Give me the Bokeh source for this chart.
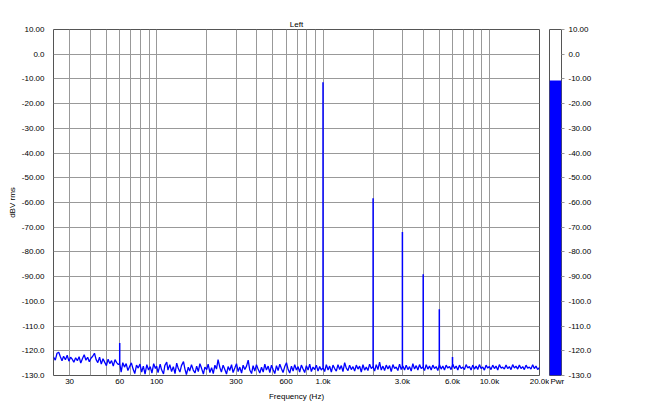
from bokeh.plotting import figure
from bokeh.layouts import row
from bokeh.models import FixedTicker, Title
from bokeh.embed import file_html
from bokeh.resources import INLINE

# ---------------- data ----------------
noise_freq = [
    24, 24.6, 25.2, 25.8, 26.4, 27, 27.6, 28.3, 29, 29.7,
    30.4, 31.1, 31.8, 32.6, 33.4, 34.2, 35, 35.8, 36.7, 37.6, 38.5, 39.4,
    40.3, 41.3, 42.3, 43.3, 44.3, 45.4, 46.5, 47.6, 48.7, 49.9, 51.1, 52.3, 53.6, 54.9, 56.2, 57.5, 58.9,
    60, 61.2, 62.6, 64.1, 65.6, 67.2, 68.8, 70.5, 72.2, 73.9, 75.7, 77.5, 79.4, 81.3, 83.2, 85.2, 87.3, 89.4, 91.5, 93.7, 96, 98.3,
    100, 102, 105, 107, 110, 112, 115, 117, 120, 123,
    126, 129, 132, 135, 138, 141, 145, 148, 151, 155,
    158, 162, 166, 170, 174, 178, 182, 186, 191, 195,
    200, 204, 209, 214, 219, 224, 229, 234, 240, 245,
    251, 257, 263, 269, 275, 282, 288, 295, 302, 309,
    316, 324, 331, 339, 347, 355, 363, 372, 380, 389,
    398, 407, 417, 427, 437, 447, 457, 468, 479, 490,
    501, 513, 525, 537, 550, 562, 575, 589, 603, 617,
    631, 646, 661, 676, 692, 708, 724, 741, 759, 776,
    794, 813, 832, 851, 871, 891, 912, 933, 955, 977,
    1000, 1023, 1047, 1072, 1096, 1122, 1148, 1175, 1202, 1230,
    1259, 1288, 1318, 1349, 1380, 1413, 1445, 1479, 1514, 1549,
    1585, 1622, 1660, 1698, 1738, 1778, 1820, 1862, 1905, 1950,
    1995, 2042, 2089, 2138, 2188, 2239, 2291, 2344, 2399, 2455,
    2512, 2570, 2630, 2692, 2754, 2818, 2884, 2951, 3020, 3090,
    3162, 3236, 3311, 3388, 3467, 3548, 3631, 3715, 3802, 3890,
    3981, 4074, 4169, 4266, 4365, 4467, 4571, 4677, 4786, 4898,
    5012, 5129, 5248, 5370, 5495, 5623, 5754, 5888, 6026, 6166,
    6310, 6457, 6607, 6761, 6918, 7079, 7244, 7413, 7586, 7762,
    7943, 8128, 8318, 8511, 8710, 8913, 9120, 9333, 9550, 9772,
    10000, 10230, 10470, 10720, 10960, 11220, 11480, 11750, 12020, 12300,
    12590, 12880, 13180, 13490, 13800, 14130, 14450, 14790, 15140, 15490,
    15850, 16220, 16600, 16980, 17380, 17780, 18200, 18620, 19050, 19500,
    19950, 20000]

noise_db = [
    -122.5, -123.8, -121.0, -120.6, -122.4, -124.0, -122.2, -123.6, -121.8, -124.2,
    -122.6, -123.4, -124.6, -122.8, -124.0, -122.4, -125.0, -123.2, -121.6, -123.8, -122.6, -124.4,
    -123.0, -122.2, -121.0, -123.6, -124.8, -122.6, -125.4, -123.2, -124.6, -126.0, -123.4, -125.2, -124.0, -126.2, -123.6, -124.8, -125.6,
    -125.0, -128.6, -124.8, -126.6, -125.2, -128.0, -126.4, -124.9, -127.4, -129.2, -125.8, -127.0, -125.4, -128.6, -126.2, -129.4, -125.6, -127.8, -126.4, -129.0, -125.2, -127.2,
    -126.2, -128.8, -125.4, -127.6, -129.4, -126.0, -124.6, -127.8, -125.6, -128.4,
    -126.4, -129.2, -125.0, -127.2, -128.6, -126.0, -124.4, -127.4, -129.6, -126.6,
    -128.2, -125.6, -127.8, -129.0, -126.2, -128.4, -125.2, -127.0, -129.4, -126.6,
    -127.6, -125.4, -128.8, -126.8, -129.2, -125.8, -127.4, -123.6, -126.8, -128.6,
    -125.8, -127.6, -129.4, -126.4, -128.0, -125.6, -128.8, -127.0, -125.2, -128.4,
    -126.6, -129.0, -125.8, -127.6, -126.2, -123.8, -127.8, -129.2, -126.0, -128.2,
    -125.6, -127.4, -129.0, -126.6, -128.6, -125.4, -127.8, -126.2, -128.8, -125.8,
    -127.6, -129.2, -126.0, -128.0, -125.4, -127.2, -128.8, -126.4, -124.8, -127.6,
    -129.0, -126.2, -128.2, -125.6, -127.8, -126.4, -128.6, -125.8, -127.4, -128.8,
    -126.0, -127.8, -125.4, -128.4, -126.6, -127.6, -125.8, -128.2, -126.4, -127.8,
    -126.8, -128.4, -125.6, -127.8, -126.2, -128.6, -125.8, -127.2, -128.2, -125.6,
    -127.6, -126.0, -128.4, -124.8, -127.0, -128.0, -125.8, -127.6, -126.4, -128.2,
    -125.8, -127.4, -126.2, -128.6, -125.6, -127.8, -126.6, -128.0, -125.4, -127.2,
    -126.4, -128.2, -125.6, -127.6, -124.6, -127.8, -126.2, -128.0, -125.8, -127.4,
    -126.0, -128.4, -125.6, -127.2, -126.6, -128.0, -125.4, -127.6, -126.2, -127.8,
    -125.8, -127.6, -126.4, -128.2, -125.2, -127.4, -126.0, -127.8, -125.6, -127.2,
    -126.6, -128.0, -125.6, -127.4, -126.2, -127.8, -125.8, -127.2, -126.4, -128.0,
    -125.6, -127.4, -126.2, -127.8, -125.8, -127.0, -126.4, -127.6, -125.4, -127.2,
    -126.2, -127.8, -125.8, -127.2, -126.6, -127.6, -125.6, -127.0, -126.4, -127.8,
    -125.8, -127.4, -126.2, -127.6, -125.6, -127.2, -126.6, -127.8, -125.8, -127.0,
    -126.4, -127.6, -125.8, -127.2, -126.2, -127.8, -125.6, -127.0, -126.6, -127.4,
    -125.8, -127.2, -126.4, -127.6, -125.6, -127.0, -126.2, -127.4, -125.8, -127.2,
    -126.4, -127.6, -125.8, -127.0, -126.6, -127.4, -125.6, -127.2, -126.2, -127.6,
    -126.8, -127.0]

peak_freq = [60, 1000, 2000, 3000, 4000, 5000, 6000]
peak_base = [-125.0, -126.8, -127.0, -127.0, -126.8, -126.8, -126.6]
peak_db = [-116.8, -11.3, -58.3, -71.9, -89.0, -103.2, -122.5]

meter_level = -10.6

x_tick_values = [30, 60, 100, 300, 600, 1000, 3000, 6000, 10000, 20000]
x_tick_labels = ["30", "60", "100", "300", "600", "1.0k", "3.0k", "6.0k", "10.0k", "20.0k"]
x_grid_values = [30, 40, 50, 60, 70, 80, 90, 100, 200, 300, 400, 500, 600, 700, 800, 900,
                 1000, 2000, 3000, 4000, 5000, 6000, 7000, 8000, 9000, 10000, 20000]
y_tick_values = [10, 0, -10, -20, -30, -40, -50, -60, -70, -80, -90, -100, -110, -120, -130]
y_tick_labels = ["10.00", "0.0", "-10.00", "-20.00", "-30.00", "-40.00", "-50.00", "-60.00",
                 "-70.00", "-80.00", "-90.00", "-100.0", "-110.0", "-120.0", "-130.0"]

FONT = "Liberation Sans"
FS = "8px"
BLUE = "#0000ff"
GRID = "#999999"
FRAME = "#555555"

TOP = 29
FRAME_H = 346
BOTTOM = 30

# ---------------- main spectrum plot ----------------
p = figure(width=53 + 486 + 10, height=TOP + FRAME_H + BOTTOM, x_axis_type="log",
           x_range=(24, 20000), y_range=(-130, 10),
           output_backend="svg", toolbar_location=None,
           min_border_left=53, min_border_right=10, min_border_top=TOP, min_border_bottom=BOTTOM)
p.title = Title(text="Left", align="center", text_font=FONT, text_font_size=FS,
                text_font_style="normal", text_color="#000000", offset=0, standoff=1)
p.outline_line_color = FRAME
p.outline_line_width = 1
p.background_fill_color = "white"
p.border_fill_color = "white"

p.line(noise_freq, noise_db, line_color=BLUE, line_width=1.3)
p.segment(x0=peak_freq, y0=peak_base, x1=peak_freq, y1=peak_db, line_color=BLUE, line_width=1.5)

p.xaxis.ticker = FixedTicker(ticks=x_tick_values)
p.xaxis.major_label_overrides = {v: l for v, l in zip(x_tick_values, x_tick_labels)}
p.xgrid.ticker = FixedTicker(ticks=x_grid_values)
p.yaxis.ticker = FixedTicker(ticks=y_tick_values)
p.yaxis.major_label_overrides = {v: l for v, l in zip(y_tick_values, y_tick_labels)}
p.ygrid.ticker = FixedTicker(ticks=y_tick_values)

for g in (p.xgrid, p.ygrid):
    g.grid_line_color = GRID
    g.grid_line_width = 1

p.xaxis.axis_label = "Frequency (Hz)"
p.yaxis.axis_label = "dBV rms"
for ax in (p.xaxis, p.yaxis):
    ax.axis_line_color = None
    ax.major_tick_line_color = None
    ax.minor_tick_line_color = None
    ax.major_tick_out = 0
    ax.major_tick_in = 0
    ax.minor_tick_out = 0
    ax.major_label_text_font = FONT
    ax.major_label_text_font_size = FS
    ax.major_label_text_color = "#000000"
    ax.axis_label_text_font = FONT
    ax.axis_label_text_font_size = FS
    ax.axis_label_text_font_style = "normal"
    ax.axis_label_text_color = "#000000"
p.xaxis.major_label_standoff = 1
p.xaxis.axis_label_standoff = 3
p.yaxis.major_label_standoff = 9
p.yaxis.axis_label_standoff = 2

# ---------------- level meter ----------------
m = figure(width=52, height=TOP + FRAME_H + BOTTOM, x_range=(0, 1), y_range=(-130, 10),
           y_axis_location="right", output_backend="svg", toolbar_location=None,
           min_border_left=0, min_border_right=40, min_border_top=TOP, min_border_bottom=BOTTOM)
m.outline_line_color = FRAME
m.background_fill_color = "white"
m.border_fill_color = "white"
m.xgrid.visible = False
m.ygrid.visible = False
m.vbar(x=[0.5], width=1, bottom=[-130], top=[meter_level], fill_color=BLUE, line_color=None)

m.yaxis.ticker = FixedTicker(ticks=y_tick_values)
m.yaxis.major_label_overrides = {v: l for v, l in zip(y_tick_values, y_tick_labels)}
m.yaxis.axis_line_color = None
m.yaxis.major_tick_line_color = GRID
m.yaxis.major_tick_out = 3
m.yaxis.major_tick_in = 0
m.yaxis.minor_tick_line_color = None
m.yaxis.major_label_standoff = 4
m.xaxis.ticker = FixedTicker(ticks=[0.5])
m.xaxis.major_label_overrides = {0.5: "Pwr"}
m.xaxis.axis_line_color = None
m.xaxis.major_tick_line_color = None
m.xaxis.minor_tick_line_color = None
m.xaxis.major_tick_out = 0
m.xaxis.major_tick_in = 0
m.xaxis.major_label_standoff = 1
for ax in (m.xaxis, m.yaxis):
    ax.major_label_text_font = FONT
    ax.major_label_text_font_size = FS
    ax.major_label_text_color = "#000000"

layout = row(p, m)
open("out.html", "w").write(file_html(layout, INLINE))
